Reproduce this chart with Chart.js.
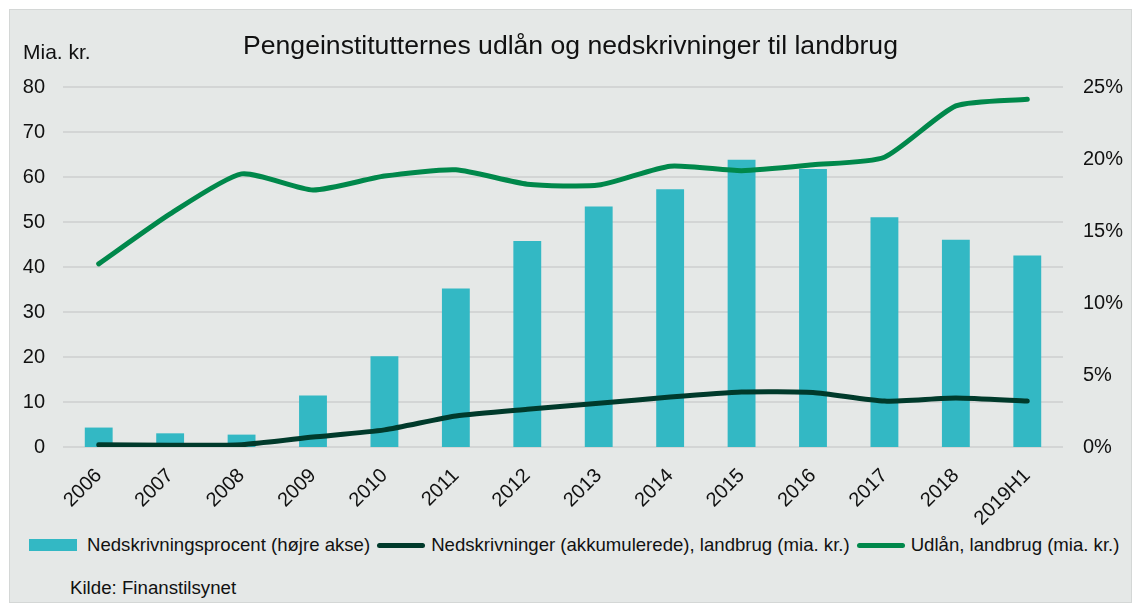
<!DOCTYPE html>
<html>
<head>
<meta charset="utf-8">
<script src="https://cdn.jsdelivr.net/npm/chart.js@4/dist/chart.umd.min.js"></script>
<style>
  body { margin: 0; background: #fff; font-family: "Liberation Sans", Arial, sans-serif; color: #111; }
  #box { position: absolute; left: 9px; top: 9px; width: 1123px; height: 594px; box-sizing: border-box;
         border: 1px solid #d4d7d6; background: #e5e8e7; overflow: hidden; }
  #chart { position: absolute; left: 0; top: 0; }
  .title { position: absolute; left: 0; width: 1121px; top: 20px; text-align: center; font-size: 26.6px; line-height: 30px; }
  .unit { position: absolute; left: 13px; top: 30px; font-size: 21px; line-height: 24px; }
  .legend { position: absolute; left: 19px; top: 524px; display: flex; align-items: center; font-size: 18.6px; line-height: 22px; white-space: nowrap; }
  .legend .sw { display: inline-block; margin-right: 6px; }
  .legend .item { display: flex; align-items: center; margin-right: 7px; }
  .bar { width: 48px; height: 12px; margin-right: 10px !important; }
  .ln { width: 48px; height: 5px; border-radius: 3px; }
  .src { position: absolute; left: 60px; top: 567px; font-size: 18.7px; line-height: 22px; }
</style>
</head>
<body>
<div id="box">
  <canvas id="chart" width="1121" height="520"></canvas>
  <div class="title">Pengeinstitutternes udlån og nedskrivninger til landbrug</div>
  <div class="unit">Mia. kr.</div>
  <div class="legend">
    <div class="item"><span class="sw bar" style="background:#33b8c4"></span>Nedskrivningsprocent (højre akse)</div>
    <div class="item"><span class="sw ln" style="background:#003a2b"></span>Nedskrivninger (akkumulerede), landbrug (mia. kr.)</div>
    <div class="item"><span class="sw ln" style="background:#00884b"></span>Udlån, landbrug (mia. kr.)</div>
  </div>
  <div class="src">Kilde: Finanstilsynet</div>
</div>
<script>
const years = ['2006', '2007', '2008', '2009', '2010', '2011', '2012', '2013', '2014', '2015', '2016', '2017', '2018', '2019H1'];
const nedskrivningsprocent = [1.35, 0.95, 0.86, 3.57, 6.3, 11.0, 14.3, 16.7, 17.9, 19.95, 19.3, 15.95, 14.4, 13.3];
const nedskrivninger = [0.5, 0.4, 0.5, 2.2, 3.8, 6.9, 8.4, 9.7, 11.1, 12.2, 12.1, 10.2, 10.9, 10.2];
const udlaan = [40.7, 51.8, 60.7, 57.1, 60.2, 61.6, 58.4, 58.2, 62.4, 61.4, 62.7, 64.4, 75.8, 77.3];
const leftTicks = [0, 10, 20, 30, 40, 50, 60, 70, 80];
const rightTicks = [0, 5, 10, 15, 20, 25];

const tickFont = { family: '"Liberation Sans", Arial, sans-serif', size: 20 };

new Chart(document.getElementById('chart').getContext('2d'), {
  data: {
    labels: years,
    datasets: [
      {
        type: 'line',
        label: 'Udlån, landbrug (mia. kr.)',
        data: udlaan,
        yAxisID: 'y',
        borderColor: '#00884b',
        borderWidth: 5,
        borderCapStyle: 'round',
        pointRadius: 0,
        tension: 0.2,
        order: 1
      },
      {
        type: 'line',
        label: 'Nedskrivninger (akkumulerede), landbrug (mia. kr.)',
        data: nedskrivninger,
        yAxisID: 'y',
        borderColor: '#003a2b',
        borderWidth: 5,
        borderCapStyle: 'round',
        pointRadius: 0,
        tension: 0.2,
        order: 2
      },
      {
        type: 'bar',
        label: 'Nedskrivningsprocent (højre akse)',
        data: nedskrivningsprocent,
        yAxisID: 'y1',
        backgroundColor: '#33b8c4',
        categoryPercentage: 1,
        barPercentage: 0.39,
        order: 3
      }
    ]
  },
  options: {
    responsive: false,
    animation: false,
    devicePixelRatio: 1,
    layout: { padding: { top: 77, left: 0, right: 0, bottom: 0 } },
    plugins: {
      legend: { display: false },
      tooltip: { enabled: false }
    },
    scales: {
      x: {
        grid: { display: false },
        border: { display: false },
        ticks: { color: '#111', font: tickFont, minRotation: 45, maxRotation: 45, padding: 9 },
        afterFit: s => { s.height = 83; }
      },
      y: {
        position: 'left',
        min: 0,
        max: 80,
        afterBuildTicks: s => { s.ticks = leftTicks.map(v => ({ value: v })); },
        grid: { color: '#d3d5d5', lineWidth: 2, drawTicks: false },
        border: { display: false },
        ticks: { color: '#111', font: tickFont, padding: 18 },
        afterFit: s => { s.width = 53; }
      },
      y1: {
        position: 'right',
        min: 0,
        max: 25,
        afterBuildTicks: s => { s.ticks = rightTicks.map(v => ({ value: v })); },
        grid: { display: false, drawTicks: false },
        border: { display: false },
        ticks: { color: '#111', font: tickFont, padding: 20, callback: v => v + '%' },
        afterFit: s => { s.width = 68; }
      }
    }
  }
});
</script>
</body>
</html>
